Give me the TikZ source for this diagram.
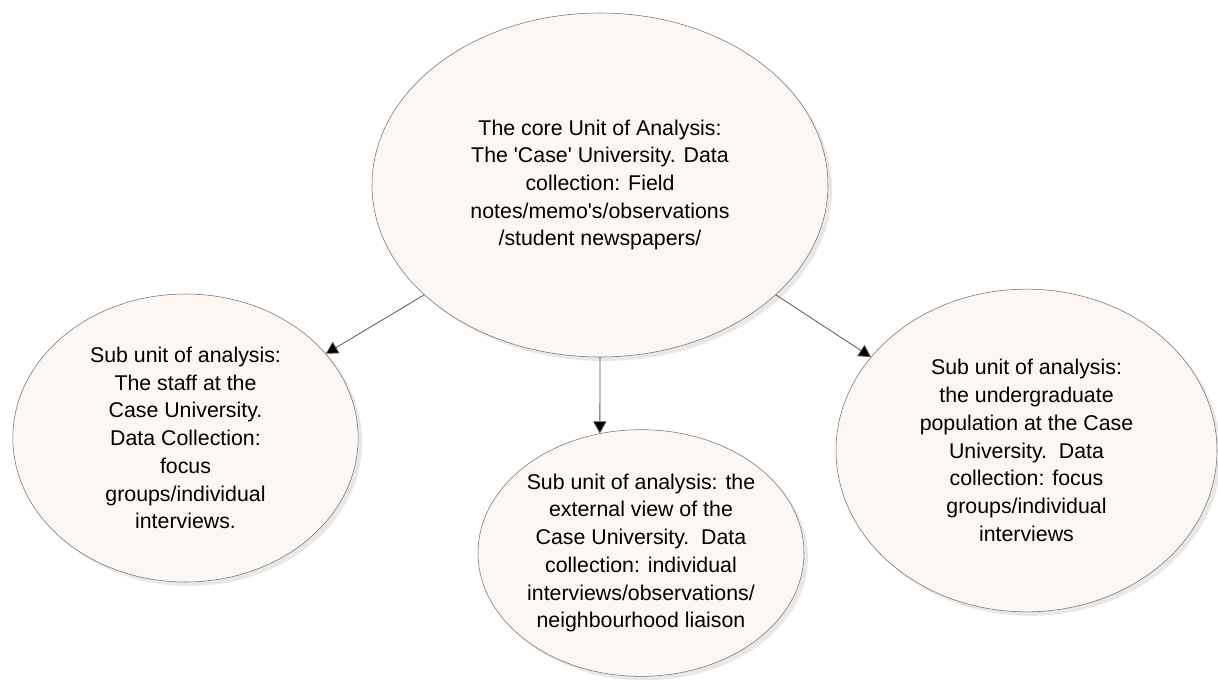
\documentclass[tikz,border=0pt]{standalone}
\usepackage{fontspec}
\setmainfont{Liberation Sans}
\usepackage{xcolor}
\usetikzlibrary{shapes.geometric,shadows,arrows.meta}

\definecolor{unitfill}{RGB}{252,247,243}
\definecolor{unitline}{RGB}{112,112,112}
\definecolor{linkline}{RGB}{85,85,85}

\tikzset{
  unit/.style={ellipse, draw=unitline, fill=unitfill, inner sep=0pt,
    align=center, font=\fontsize{16}{20.8}\selectfont,
    drop shadow={opacity=0.18, shadow xshift=3pt, shadow yshift=-3pt}},
  link/.style={draw=linkline, line width=0.6pt,
    -{Triangle[length=9pt,width=10pt,fill=black]}}
}

\begin{document}
\begin{tikzpicture}[x=0.75pt,y=-0.75pt]
\useasboundingbox (0,0) rectangle (1218,679);

% Core unit
\node[unit, minimum width=342pt, minimum height=258pt] (core) at (600,185)
  {The core Unit of Analysis:\\The \textquotesingle Case\textquotesingle{} University. Data\\collection: Field\\notes/memo\textquotesingle s/observations\\/student newspapers/};

% Sub units
\node[unit, minimum width=259pt, minimum height=216pt] (staff) at (185.5,438)
  {Sub unit of analysis:\\The staff at the\\Case University.\\Data Collection:\\focus\\groups/individual\\interviews.};
\node[unit, minimum width=244.5pt, minimum height=185pt] (ext) at (641,553)
  {Sub unit of analysis: the\\external view of the\\Case University.\ \ Data\\collection: individual\\interviews/observations/\\neighbourhood liaison};
\node[unit, minimum width=285.75pt, minimum height=242pt] (under) at (1026.5,450.5)
  {Sub unit of analysis:\\the undergraduate\\population at the Case\\University.\ \ Data\\collection: focus\\groups/individual\\interviews};

% Links
\draw[link] (core.212) -- (staff.31);
\draw[link] (core.south) -- (ext.109);
\draw[link] (core.-32) -- (under.149);
\end{tikzpicture}
\end{document}
